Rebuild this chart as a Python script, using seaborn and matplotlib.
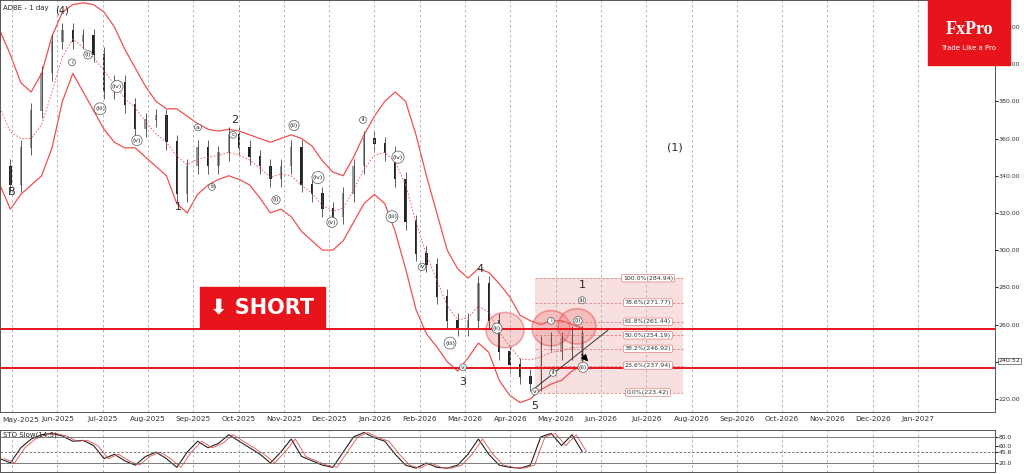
import numpy as np
import pandas as pd
import matplotlib
matplotlib.use("Agg")
import matplotlib.pyplot as plt
from matplotlib.patches import Rectangle, Ellipse
import seaborn as sns

sns.set_style("white")
plt.rcParams['font.family'] = ['DejaVu Sans']

# weekly closes (week index from late Apr 2025)
close = [345, 335, 355, 375, 395, 412, 418, 412, 415, 405, 385, 390, 378, 365, 370, 372, 358, 330,
         345, 355, 345, 352, 362, 355, 350, 345, 338, 345, 355, 335, 330, 322, 318, 330, 345, 360,
         357, 352, 338, 315, 298, 292, 275, 262, 258, 262, 282, 262, 245, 238, 232, 228, 250, 252,
         245, 255, 240.5]
upper = [418, 405, 390, 385, 395, 415, 428, 432, 433, 432, 428, 420, 408, 398, 388, 380, 376, 376,
         372, 368, 365, 364, 365, 364, 362, 360, 358, 360, 362, 360, 356, 348, 342, 340, 350, 362,
         372, 380, 385, 380, 362, 340, 320, 300, 290, 285, 290, 288, 282, 275, 265, 262, 260, 262,
         262, 260, 258]
lower = [335, 322, 330, 335, 340, 355, 380, 395, 385, 375, 365, 358, 355, 355, 350, 345, 340, 325,
         320, 330, 335, 338, 340, 338, 335, 328, 320, 322, 318, 310, 305, 300, 300, 305, 315, 325,
         330, 325, 310, 290, 268, 255, 248, 240, 235, 242, 250, 245, 230, 222, 218, 220, 225, 228,
         230, 235, 238]
stoch = [30, 20, 55, 75, 85, 88, 82, 70, 72, 60, 30, 40, 25, 15, 35, 45, 30, 10, 45, 70, 55, 65,
         85, 70, 55, 40, 20, 45, 75, 35, 25, 15, 10, 45, 80, 90, 78, 70, 40, 15, 8, 20, 10, 8, 15,
         40, 75, 40, 15, 10, 8, 15, 80, 88, 60, 85, 45.6]
months = ["May-2025", "Jun-2025", "Jul-2025", "Aug-2025", "Sep-2025", "Oct-2025", "Nov-2025",
          "Dec-2025", "Jan-2026", "Feb-2026", "Mar-2026", "Apr-2026", "May-2026", "Jun-2026",
          "Jul-2026", "Aug-2026", "Sep-2026", "Oct-2026", "Nov-2026", "Dec-2026", "Jan-2027"]
fib_pct = ["100.0%", "78.6%", "61.8%", "50.0%", "38.2%", "23.6%", "0.0%"]
fib_val = [284.94, 271.77, 261.44, 254.19, 246.92, 237.94, 223.42]
hlines = [257.5, 236.5]
yticks = [220, 240, 260, 280, 300, 320, 340, 360, 380, 400, 420]

AXW = 0.972
PX = 10.4  # pixels per week
def wx(px):
    return px / PX
XMAX = wx(AXW * 1024)

fig = plt.figure(figsize=(10.24, 4.74), dpi=100)
ax = fig.add_axes([0.0, 0.131, AXW, 0.869])
ax2 = fig.add_axes([0.0, 0.004, AXW, 0.089])

w = np.arange(len(close))
df = pd.DataFrame({"w": w, "close": close, "upper": upper, "lower": lower,
                   "mid": (np.array(upper) + np.array(lower)) / 2, "stoch": stoch})

sns.lineplot(data=df, x="w", y="upper", ax=ax, color="#f05050", lw=0.9)
sns.lineplot(data=df, x="w", y="lower", ax=ax, color="#f05050", lw=0.9)
sns.lineplot(data=df, x="w", y="mid", ax=ax, color="#f05050", lw=0.6, ls=(0, (2, 2)))

opens = [close[0]] + close[:-1]
for i in range(len(close)):
    o, c = opens[i], close[i]
    ax.vlines(i, min(o, c) - 4, max(o, c) + 4, color="#444444", lw=0.6)
    ax.add_patch(Rectangle((i - 0.12, min(o, c)), 0.24, abs(c - o) + 0.5,
                           color="#222222" if c < o else "#999999", lw=0))

ax.set_xlim(0, XMAX)
ax.set_ylim(213, 434.5)
mt = [wx(12 + 45.3 * k) for k in range(len(months))]
for t in mt:
    ax.axvline(t, color="#aaaaaa", ls=(0, (3, 3)), lw=0.6)
    ax2.axvline(t, color="#aaaaaa", ls=(0, (3, 3)), lw=0.6)
ax.set_xticks(mt)
ax.set_xticklabels([""] + months[1:], fontsize=5.3, color="#333333")
ax.text(wx(2), -0.012, months[0], transform=ax.get_xaxis_transform(), fontsize=5.3,
        color="#333333", ha="left", va="top")
ax.tick_params(axis="x", length=2, pad=1)
ax.yaxis.tick_right()
ax.set_yticks(yticks)
ax.set_yticklabels([f"{v:.2f}" for v in yticks], fontsize=4.5, color="#333333")
ax.tick_params(axis="y", length=2, pad=0.5)
for s in ax.spines.values():
    s.set_color("#555555"); s.set_linewidth(0.7)

# fib box
x0, x1 = wx(535), wx(683)
ax.add_patch(Rectangle((x0, fib_val[-1]), x1 - x0, fib_val[0] - fib_val[-1],
                       color="#f6d4d4", alpha=0.7, lw=0))
for p, v in zip(fib_pct, fib_val):
    ax.hlines(v, x0, x1, color="#e08080", lw=0.6, ls=(0, (3, 2)))
    ax.text(wx(648), v, f"{p}({v:.2f})", fontsize=4.5, ha="center", va="center", color="#333333",
            bbox=dict(boxstyle="round,pad=0.2", fc="white", ec="#e08080", lw=0.5))
for v in hlines:
    ax.axhline(v, color="#e8141c", lw=1.4)
for cx, cy in [(505, 257), (551, 258), (577, 259)]:
    ax.add_patch(Ellipse((wx(cx), cy), wx(38), 19, fc="#f08080", alpha=0.35,
                         ec="#e8141c", lw=1.2))
ax.plot([wx(533), wx(608)], [225, 257], color="#333333", lw=0.7)
ax.annotate("", xy=(wx(590), 239), xytext=(wx(580), 245),
            arrowprops=dict(arrowstyle="-|>", color="black", lw=0.8))

# price tag
ax.text(1.003, 240.52, "240.52", transform=ax.get_yaxis_transform(), fontsize=4.5, va="center",
        ha="left", bbox=dict(boxstyle="square,pad=0.1", fc="white", ec="#555555", lw=0.5))

# labels
ax.text(wx(3), 432, "ADBE - 1 day", fontsize=5, va="top")
for txt, px, v, fs in [("(4)", 62, 429, 7), ("B", 12, 331, 8), ("1", 178, 323, 8), ("2", 235, 370, 8),
                       ("3", 463, 229, 8), ("4", 480, 290, 8), ("5", 535, 216, 8), ("1", 582, 281, 8),
                       ("(1)", 675, 355, 8)]:
    ax.text(wx(px), v, txt, fontsize=fs, ha="center", va="center")
for txt, px, v in [("i", 72, 401), ("(i)", 88, 405), ("(iii)", 100, 376), ("(iv)", 117, 388),
                   ("(v)", 137, 359), ("a", 198, 366), ("c", 233, 362), ("b", 212, 334),
                   ("(i)", 276, 327), ("(ii)", 294, 367), ("(iv)", 318, 339), ("(v)", 332, 315),
                   ("ii", 363, 370), ("(iv)", 398, 350), ("(iii)", 392, 318), ("iv", 422, 291),
                   ("(iii)", 450, 250), ("v", 463, 237), ("(ii)", 497, 258), ("v", 535, 224),
                   ("i", 551, 262), ("(i)", 578, 262), ("ii", 553, 234), ("(ii)", 583, 237),
                   ("iii", 582, 273)]:
    ax.text(wx(px), v, txt, fontsize=4.5, ha="center", va="center",
            bbox=dict(boxstyle="circle,pad=0.15", fc="white", ec="#555555", lw=0.5))

# SHORT box
fig.patches.append(Rectangle((200 / 1024, 1 - 328 / 474), 125 / 1024, 41 / 474,
                             transform=fig.transFigure, color="#e8141c", zorder=5))
fig.text(262 / 1024, 1 - 307 / 474, "⬇ SHORT", color="white", fontsize=15, fontweight="bold",
         ha="center", va="center", zorder=6)
# logo
fig.patches.append(Rectangle((928 / 1024, 1 - 65 / 474), 82 / 1024, 65 / 474,
                             transform=fig.transFigure, color="#e8141c", zorder=5))
fig.text(969 / 1024, 1 - 30 / 474, "FxPro", color="white", fontsize=13, fontweight="bold",
         ha="center", va="center", zorder=6, family="Liberation Serif")
fig.text(969 / 1024, 1 - 48 / 474, "Trade Like a Pro", color="white", fontsize=5,
         ha="center", va="center", zorder=6)

# stochastic
sns.lineplot(data=df, x="w", y="stoch", ax=ax2, color="#222222", lw=0.8)
sns.lineplot(x=df["w"] + 0.4, y=df["stoch"], ax=ax2, color="#e05050", lw=0.6)
ax2.set_xlim(0, XMAX)
ax2.set_ylim(-1, 96)
for v in [80, 20]:
    ax2.axhline(v, color="#666666", lw=0.6)
ax2.axhline(45.6, color="#666666", lw=0.6, ls=(0, (3, 2)))
ax2.set_xticks([])
ax2.set_xlabel(""); ax2.set_ylabel(""); ax.set_xlabel(""); ax.set_ylabel("")
ax2.yaxis.tick_right()
ax2.set_yticks([20, 45.6, 60, 80])
ax2.set_yticklabels(["20.0", "45.6", "60.0", "80.0"], fontsize=4.3)
ax2.tick_params(axis="y", length=2, pad=0.5)
ax2.text(wx(3), 92, "STO Slow(14,3)", fontsize=5, va="top")
for s in ax2.spines.values():
    s.set_color("#555555"); s.set_linewidth(0.7)

fig.savefig("out.png", dpi=100)
